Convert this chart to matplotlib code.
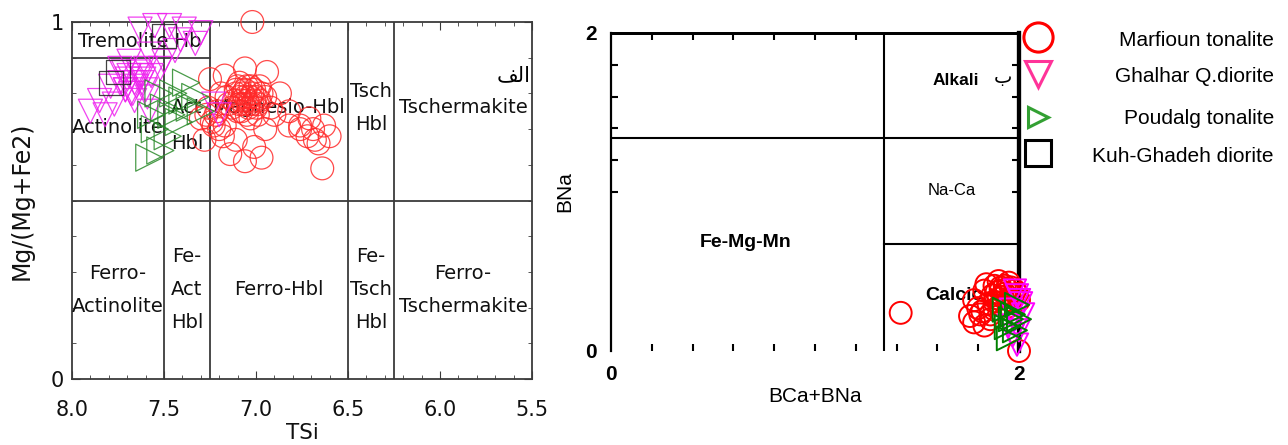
import matplotlib
matplotlib.use("Agg")
import matplotlib.pyplot as plt
import numpy as np

plt.rcParams['font.family'] = ['Liberation Sans', 'DejaVu Sans']

# ── DATA ─────────────────────────────────────────────────────
series = ['Marfioun tonalite', 'Ghalhar Q.diorite', 'Poudalg tonalite', 'Kuh-Ghadeh diorite']

# left diagram: TSi vs Mg/(Mg+Fe2)
marf_tsi = [7.02, 7.17, 7.06, 6.94, 7.25, 7.11, 6.98, 6.87, 6.82, 6.76,
            7.21, 7.09, 7.01, 6.92, 7.17, 7.03, 6.95, 7.30, 7.28, 7.11,
            7.01, 7.06, 6.97, 7.14, 6.64, 6.68, 6.76, 6.63, 6.71, 6.60,
            6.82, 7.19, 7.09, 7.06, 7.04, 7.02, 7.08, 7.00, 7.10, 7.05,
            6.98, 7.12, 7.03, 6.95, 7.15, 7.07, 6.99, 7.22, 7.20, 7.24,
            7.26, 7.18, 6.90, 6.72, 6.69, 6.66, 7.05, 7.03, 7.07, 7.01,
            7.09, 7.04, 7.06, 7.00, 7.11, 7.02, 7.08, 6.97, 7.13, 7.05,
            6.99, 7.10, 7.16, 7.27, 7.23]
marf_mg = [1.00, 0.85, 0.87, 0.86, 0.84, 0.81, 0.82, 0.80, 0.75, 0.71,
           0.75, 0.77, 0.78, 0.76, 0.71, 0.73, 0.70, 0.73, 0.67, 0.67,
           0.65, 0.61, 0.62, 0.63, 0.59, 0.67, 0.70, 0.71, 0.73, 0.68,
           0.71, 0.80, 0.83, 0.79, 0.77, 0.80, 0.78, 0.76, 0.75, 0.74,
           0.78, 0.78, 0.82, 0.79, 0.77, 0.80, 0.74, 0.74, 0.70, 0.72,
           0.76, 0.68, 0.74, 0.68, 0.70, 0.66, 0.78, 0.79, 0.77, 0.81,
           0.79, 0.76, 0.81, 0.79, 0.80, 0.77, 0.75, 0.80, 0.76, 0.82,
           0.77, 0.82, 0.79, 0.74, 0.71]

ghal_tsi = [7.63, 7.55, 7.47, 7.39, 7.30, 7.58, 7.69, 7.44, 7.33, 7.74,
            7.63, 7.52, 7.79, 7.71, 7.60, 7.85, 7.77, 7.66, 7.90, 7.82,
            7.58, 7.50, 7.41, 7.70, 7.66, 7.60, 7.23, 7.20, 7.68, 7.62,
            7.72, 7.57, 7.65, 7.69, 7.61, 7.74, 7.67, 7.64, 7.71, 7.59]
ghal_mg = [0.98, 0.99, 0.99, 0.98, 0.97, 0.91, 0.89, 0.92, 0.94, 0.87,
           0.85, 0.87, 0.82, 0.81, 0.81, 0.78, 0.77, 0.78, 0.75, 0.74,
           0.75, 0.89, 0.95, 0.84, 0.83, 0.87, 0.77, 0.74, 0.80, 0.83,
           0.86, 0.85, 0.82, 0.85, 0.84, 0.83, 0.80, 0.86, 0.81, 0.79]

poud_tsi = [7.58, 7.55, 7.50, 7.45, 7.40, 7.42, 7.36, 7.48, 7.53, 7.38,
            7.33, 7.46, 7.57, 7.30, 7.52]
poud_mg = [0.62, 0.70, 0.76, 0.80, 0.78, 0.72, 0.76, 0.68, 0.80, 0.83,
           0.79, 0.74, 0.74, 0.75, 0.64]

kuh_tsi = [7.79, 7.50, 7.75]
kuh_mg = [0.83, 0.96, 0.86]

# right diagram: BCa+BNa vs BNa
marf_bcana = [1.42, 1.78, 1.83, 1.88, 1.93, 1.98, 1.81, 1.86, 1.91, 1.83,
              1.78, 1.96, 2.00, 1.91, 1.88, 2.00, 1.85, 1.87, 1.93, 1.96,
              1.80, 1.90, 1.95, 1.99, 1.76, 1.82, 1.86, 1.90, 1.95, 1.84,
              1.89, 1.92, 1.94, 1.97, 1.88, 1.91]
marf_bna = [0.24, 0.32, 0.38, 0.41, 0.41, 0.38, 0.23, 0.20, 0.29, 0.16,
            0.18, 0.32, 0.32, 0.38, 0.26, 0.00, 0.30, 0.35, 0.36, 0.40,
            0.27, 0.33, 0.28, 0.36, 0.22, 0.25, 0.23, 0.44, 0.43, 0.42,
            0.37, 0.34, 0.39, 0.35, 0.31, 0.40]

ghal_bcana = [1.98, 2.00, 1.96, 1.98, 2.00, 1.99, 1.97, 2.02, 1.95, 2.01, 1.99]
ghal_bna = [0.38, 0.32, 0.26, 0.20, 0.13, 0.04, 0.10, 0.23, 0.16, 0.30, 0.35]

poud_bcana = [1.93, 1.96, 1.98, 2.00, 1.95, 1.99, 1.97, 1.94]
poud_bna = [0.26, 0.20, 0.13, 0.20, 0.08, 0.29, 0.23, 0.15]

# classification boundaries
tsi_bounds = [7.5, 7.25, 6.5, 6.25]
mg_bound = 0.5
trem_mg = 0.9
leake_ca_na = 1.34
leake_na_hi = 1.34
leake_na_lo = 0.67

# ── FIGURE ───────────────────────────────────────────────────
fig = plt.figure(figsize=(12.88, 4.45), dpi=100)

# ── Left: amphibole classification (TSi vs Mg#) ──
ax1 = fig.add_axes([72/1288, 66/445, 460/1288, 357/445])
frame = '#3a3a3a'
txt = '#111111'
geneva = ['DejaVu Sans']
ax1.set_xlim(8.0, 5.5)
ax1.set_ylim(0, 1)
for s in ax1.spines.values():
    s.set_color(frame)
    s.set_linewidth(1.3)

for t in tsi_bounds:
    ax1.axvline(t, color=frame, lw=1.3)
ax1.axhline(mg_bound, color=frame, lw=1.3)
ax1.plot([8.0, 7.25], [trem_mg, trem_mg], color=frame, lw=1.3)

ax1.set_xticks([8.0, 7.5, 7.0, 6.5, 6.0, 5.5])
ax1.set_xticklabels(['8.0', '7.5', '7.0', '6.5', '6.0', '5.5'], family=geneva)
ax1.set_xticks(np.arange(5.5, 8.01, 0.1), minor=True)
ax1.set_yticks([0, 1])
ax1.set_yticklabels(['0', '1'], family=geneva)
ax1.set_yticks(np.arange(0, 1.01, 0.1), minor=True)
ax1.tick_params(which='both', direction='in', top=True, right=True,
                color=frame, labelcolor=txt)
ax1.tick_params(which='major', length=6, labelsize=15)
ax1.tick_params(which='minor', length=3)
ax1.tick_params(axis='x', pad=15)
ax1.tick_params(axis='y', pad=6)
ax1.set_xlabel('TSi', fontsize=15.5, color=txt, labelpad=2, family=geneva)
ax1.set_ylabel('Mg/(Mg+Fe2)', fontsize=17, color=txt, labelpad=12, family=geneva)

fs = 14
lsp = 1.95
kw = dict(ha='center', va='center', fontsize=fs, color=txt, family=geneva)
ax1.text(7.63, 0.945, 'Tremolite Hb', **kw)
ax1.text(7.75, 0.705, 'Actinolite', **kw)
ax1.text(7.375, 0.71, 'Act\n\nHbl', linespacing=0.95, **kw)
ax1.text(6.875, 0.76, 'Magnesio-Hbl', **kw)
ax1.text(6.375, 0.76, 'Tsch\nHbl', linespacing=lsp, **kw)
ax1.text(5.875, 0.76, 'Tschermakite', **kw)
ax1.text(7.75, 0.25, 'Ferro-\nActinolite', linespacing=lsp, **kw)
ax1.text(7.375, 0.25, 'Fe-\nAct\nHbl', linespacing=lsp, **kw)
ax1.text(6.875, 0.25, 'Ferro-Hbl', **kw)
ax1.text(6.375, 0.25, 'Fe-\nTsch\nHbl', linespacing=lsp, **kw)
ax1.text(5.875, 0.25, 'Ferro-\nTschermakite', linespacing=lsp, **kw)
# Arabic panel letter "alef" (pre-shaped, visual order)
ax1.text(5.51, 0.85, '\ufed2\ufedf\ufe8d', ha='right', va='center', fontsize=15,
         color='black', family=geneva)

ax1.scatter(marf_tsi, marf_mg, s=270, facecolors='none', edgecolors='#ff2a2a',
            linewidths=0.9, alpha=0.85, zorder=3, clip_on=False)
ax1.scatter(ghal_tsi, ghal_mg, s=300, marker='v', facecolors='none',
            edgecolors='#ee22ee', linewidths=0.9, alpha=0.85, zorder=4, clip_on=False)
ax1.scatter(poud_tsi, poud_mg, s=380, marker='>', facecolors='none',
            edgecolors='#2a8a2a', linewidths=0.9, alpha=0.85, zorder=5, clip_on=False)
ax1.scatter(kuh_tsi, kuh_mg, s=300, marker='s', facecolors='none',
            edgecolors='#222222', linewidths=0.9, alpha=0.85, zorder=6, clip_on=False)

# ── Right: Leake (1978) groups ──
ax2 = fig.add_axes([611/1288, 94/445, 408/1288, 318/445])
ax2.set_xlim(0, 2)
ax2.set_ylim(0, 2)
ax2.spines['bottom'].set_visible(False)
ax2.spines['left'].set_linewidth(1.6)
ax2.spines['top'].set_linewidth(2.0)
ax2.spines['right'].set_linewidth(3.0)

ax2.axvline(leake_ca_na, color='black', lw=1.5)
ax2.axhline(leake_na_hi, color='black', lw=1.5)
ax2.plot([leake_ca_na, 2], [leake_na_lo, leake_na_lo], color='black', lw=1.5)

ax2.set_xticks([0, 2])
ax2.set_xticklabels(['0', '2'], fontweight='bold')
ax2.set_xticks(np.arange(0.2, 1.81, 0.2), minor=True)
ax2.set_yticks([0, 2])
ax2.set_yticklabels(['0', '2'], fontweight='bold')
ax2.set_yticks(np.arange(1.0, 1.81, 0.2), minor=True)
ax2.tick_params(which='both', direction='in', width=1.5)
ax2.tick_params(which='major', length=0, labelsize=15, pad=10)
ax2.tick_params(which='minor', length=5)
ax2.set_xlabel('BCa+BNa', fontsize=15, labelpad=2)
ax2.set_ylabel('BNa', fontsize=15, labelpad=8)

# ticks along the top and right frame
top_ax = ax2.secondary_xaxis('top')
top_ax.set_xticks(np.arange(0.2, 1.21, 0.2))
top_ax.set_xticklabels([])
top_ax.tick_params(direction='in', length=5, width=1.5)
right_ax = ax2.secondary_yaxis('right')
right_ax.set_yticks(np.arange(1.0, 1.81, 0.2))
right_ax.set_yticklabels([])
right_ax.tick_params(direction='in', length=5, width=1.5)
top_ax.spines['top'].set_linewidth(2.0)
right_ax.spines['right'].set_linewidth(3.0)

ax2.text(1.69, 1.70, 'Alkali', ha='center', va='center', fontsize=12.5,
         fontweight='bold')
ax2.text(1.92, 1.72, '\u0628', ha='center', va='center', fontsize=14,
         family=['DejaVu Sans'])
ax2.text(1.67, 1.01, 'Na-Ca', ha='center', va='center', fontsize=12)
ax2.text(0.66, 0.68, 'Fe-Mg-Mn', ha='center', va='center', fontsize=14,
         fontweight='bold')
ax2.text(1.68, 0.35, 'Calcic', ha='center', va='center', fontsize=14,
         fontweight='bold')

ax2.scatter(marf_bcana, marf_bna, s=250, facecolors='none', edgecolors='#ff0000',
            linewidths=1.4, zorder=3, clip_on=False)
ax2.scatter(ghal_bcana, ghal_bna, s=260, marker='v', facecolors='none',
            edgecolors='#ff00ff', linewidths=1.4, zorder=4, clip_on=False)
ax2.scatter(poud_bcana, poud_bna, s=300, marker='>', facecolors='none',
            edgecolors='#008000', linewidths=1.4, zorder=5, clip_on=False)

# ── Legend ──
axl = fig.add_axes([0, 0, 1, 1], facecolor='none')
axl.set_xlim(0, 1288)
axl.set_ylim(445, 0)
axl.axis('off')
leg_markers = ['o', 'v', '>', 's']
leg_colors = ['#ff0000', '#ff3399', '#33a033', '#000000']
leg_sizes = [21, 19, 15, 19]
leg_rows = [37, 74, 117, 153]
leg_text_rows = [40, 77, 118, 157]
for name, m, c, ms, ym, yt in zip(series, leg_markers, leg_colors, leg_sizes,
                                  leg_rows, leg_text_rows):
    axl.plot([1038], [ym], marker=m, ms=ms, mfc='none', mec=c, mew=2.2,
             linestyle='none')
    axl.text(1274, yt, name, ha='right', va='center', fontsize=15)

fig.savefig('out.png', dpi=100, facecolor='white')
